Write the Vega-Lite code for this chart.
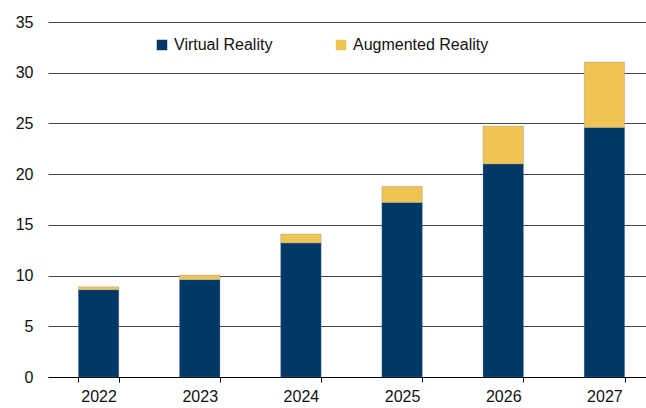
{
  "$schema": "https://vega.github.io/schema/vega-lite/v6.json",
  "width": 607,
  "height": 355,
  "padding": {"left": 15, "top": 14, "right": 0, "bottom": 5},
  "background": "white",
  "config": {
    "font": "Liberation Sans",
    "view": {"stroke": null}
  },
  "data": {
    "values": [
      {"year": "2022", "type": "Virtual Reality", "value": 8.6},
      {"year": "2022", "type": "Augmented Reality", "value": 0.3},
      {"year": "2023", "type": "Virtual Reality", "value": 9.6},
      {"year": "2023", "type": "Augmented Reality", "value": 0.45},
      {"year": "2024", "type": "Virtual Reality", "value": 13.2},
      {"year": "2024", "type": "Augmented Reality", "value": 0.9},
      {"year": "2025", "type": "Virtual Reality", "value": 17.2},
      {"year": "2025", "type": "Augmented Reality", "value": 1.6},
      {"year": "2026", "type": "Virtual Reality", "value": 21.0},
      {"year": "2026", "type": "Augmented Reality", "value": 3.75},
      {"year": "2027", "type": "Virtual Reality", "value": 24.6},
      {"year": "2027", "type": "Augmented Reality", "value": 6.45}
    ]
  },
  "mark": {"type": "bar", "stroke": "#6a8bb0", "strokeWidth": 0.5, "strokeOpacity": 0.6},
  "encoding": {
    "x": {
      "field": "year",
      "type": "nominal",
      "title": null,
      "scale": {"paddingInner": 0.6, "paddingOuter": 0.3},
      "axis": {
        "labelAngle": 0,
        "labelFontSize": 16,
        "labelColor": "#111",
        "labelPadding": 6,
        "tickBand": "extent",
        "tickSize": 5,
        "tickColor": "#000",
        "domainColor": "#000",
        "domainWidth": 1.2,
        "grid": false
      }
    },
    "y": {
      "field": "value",
      "type": "quantitative",
      "stack": "zero",
      "title": null,
      "scale": {"domain": [0, 35]},
      "axis": {
        "values": [0, 5, 10, 15, 20, 25, 30, 35],
        "labelFontSize": 16,
        "labelColor": "#111",
        "labelPadding": 15,
        "ticks": false,
        "domain": false,
        "gridColor": "#444",
        "gridWidth": 1.2
      }
    },
    "color": {
      "field": "type",
      "type": "nominal",
      "sort": ["Virtual Reality", "Augmented Reality"],
      "scale": {"domain": ["Virtual Reality", "Augmented Reality"], "range": ["#023865", "#f0c454"]},
      "legend": {
        "title": null,
        "orient": "none",
        "direction": "horizontal",
        "legendX": 106,
        "legendY": 15,
        "symbolType": "square",
        "symbolSize": 110,
        "symbolStrokeWidth": 0,
        "labelFontSize": 16,
        "labelColor": "#111",
        "labelOffset": 4,
        "columnPadding": 60
      }
    }
  }
}
